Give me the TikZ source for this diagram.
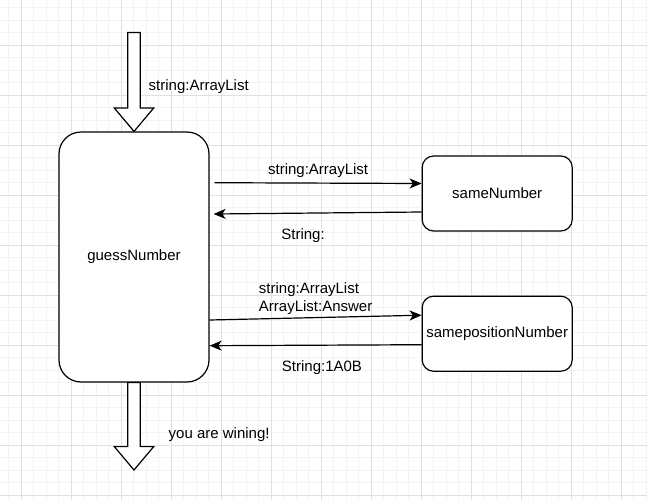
\documentclass[tikz,border=0pt]{standalone}
\usepackage{fontspec}
\setmainfont{Liberation Sans}
\usetikzlibrary{positioning,arrows.meta}
\definecolor{gridmajor}{HTML}{E0E0E0}
\definecolor{gridminor}{HTML}{F3F3F3}
\tikzset{%
  proc/.style={
    draw,
    fill=white,
    rounded corners=16.5pt,
    line width=0.9pt,
    inner sep=2pt,
    minimum width=112.5pt,
    minimum height=187.5pt
  },
  subproc/.style={
    proc,
    rounded corners=8.5pt,
    minimum height=56.25pt
  },
}

\begin{document}
\begin{tikzpicture}[auto,x=0.75pt,y=-0.75pt,>={Stealth[length=9pt,width=7.5pt,inset=2.5pt]},font=\fontsize{11.25}{13.5}\selectfont]
      \tikzstyle{fat}=[line width=0.9pt,draw=black,fill=white]
      \tikzstyle{link}=[line width=0.9pt,->]

      \fill[white] (0,0) rectangle (647,500);
      \useasboundingbox (0,0) rectangle (647,500);
      \foreach \gx in {8.5,21,...,646} \draw[gridminor,line width=0.75pt] (\gx,0) -- (\gx,500);
      \foreach \gy in {7.5,20,...,499} \draw[gridminor,line width=0.75pt] (0,\gy) -- (647,\gy);
      \foreach \gx in {21,71,...,621} \draw[gridmajor,line width=0.75pt] (\gx,0) -- (\gx,500);
      \foreach \gy in {45,95,...,495} \draw[gridmajor,line width=0.75pt] (0,\gy) -- (647,\gy);

      \node[proc] (guess) at (134,257) {guessNumber};
      \node[subproc, below right=18pt and 159pt of guess.north east] (same) {sameNumber};
      \node[subproc, below=48pt of same] (pos) {samepositionNumber};

      \draw[fat] (guess.north) -- ++(19.7,-23.4) -- ++(-13.4,0) -- ++(0,-75.6)
        -- ++(-12.6,0) -- ++(0,75.6) -- ++(-13.4,0) -- cycle;
      \draw[fat] (guess.south) -- ++(6.3,0) -- ++(0,64) -- ++(13.4,0)
        -- ++(-19.7,23.4) -- ++(-19.7,-23.4) -- ++(13.4,0) -- ++(0,-64) -- cycle;
      \node[anchor=west] (inlabel) at (144,87) {string:ArrayList};
      \node[anchor=west] (outlabel) at (164,435) {you are wining!};

      \draw[link] ([shift={(5,-74.3)}]guess.east) -- node[above] {string:ArrayList} ([shift={(0,-10)}]same.west);
      \draw[link] ([shift={(0,18.5)}]same.west) -- node[below=8pt,pos=0.57] {String:} ([shift={(4,-43)}]guess.east);
      \draw[link] ([shift={(0,63)}]guess.east) -- node[above=-1.5pt,align=left] {string:ArrayList\\ArrayList:Answer} ([shift={(0,-18.5)}]pos.west);
      \draw[link] ([shift={(0,11)}]pos.west) -- node[below=8pt,pos=0.47] {String:1A0B} ([shift={(0,88.7)}]guess.east);
\end{tikzpicture}
\end{document}
